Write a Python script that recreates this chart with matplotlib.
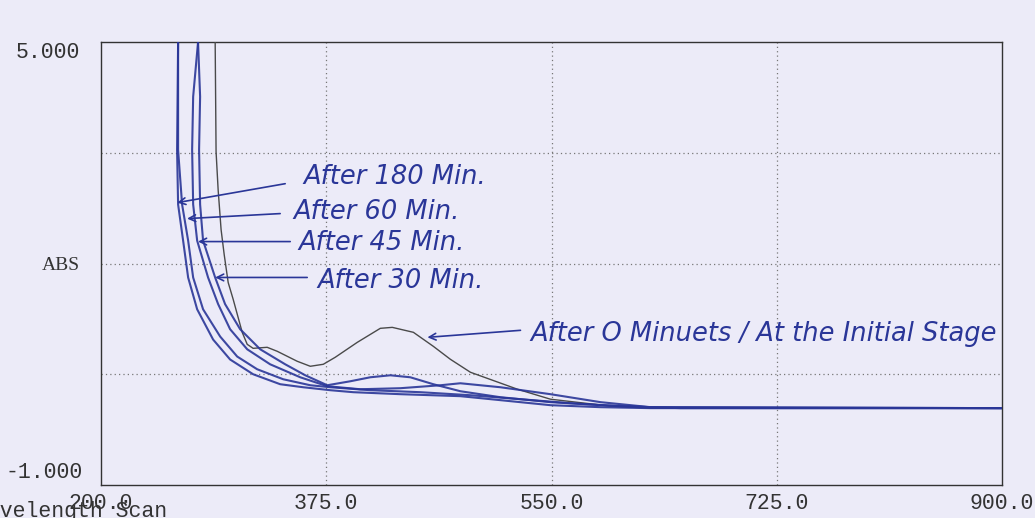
import matplotlib
matplotlib.use("Agg")
import matplotlib.pyplot as plt

# ---- data (wavelength nm, absorbance) ----
x_ticks = [200.0, 375.0, 550.0, 725.0, 900.0]
y_min, y_max = -1.0, 5.0
y_grid = [0.5, 2.0, 3.5]

wl_0 = [288.7, 289.4, 291.0, 293.3, 295.7, 298.8, 302.7, 309.7, 313.6, 318.2, 329.1, 336.9,
        352.4, 362.6, 372.7, 382.0, 399.1, 417.0, 426.3, 442.7, 458.2, 471.4, 487.0, 523.6,
        549.2, 595.9, 627.0, 900.0]
abs_0 = [5.0, 3.514, 3.0, 2.459, 2.122, 1.743, 1.514, 1.068, 0.905, 0.851, 0.865, 0.811,
         0.676, 0.608, 0.635, 0.730, 0.932, 1.122, 1.135, 1.068, 0.878, 0.703, 0.527, 0.297,
         0.162, 0.068, 0.041, 0.041]

wl_30 = [275.4, 277.0, 276.2, 277.0, 279.3, 288.7, 296.4, 308.1, 323.7, 343.1, 358.7, 375.8,
         393.7, 409.2, 424.8, 440.3, 458.2, 479.2, 510.3, 549.2, 588.1, 627.0, 900.0]
abs_30 = [5.0, 4.26, 3.54, 2.80, 2.31, 1.81, 1.45, 1.11, 0.838, 0.635, 0.486, 0.351,
          0.405, 0.459, 0.486, 0.459, 0.365, 0.270, 0.189, 0.122, 0.081, 0.054, 0.041]

wl_45 = [275.4, 271.6, 270.8, 271.6, 274.7, 283.2, 291.0, 300.3, 313.6, 331.4, 354.8, 375.8,
         401.4, 432.6, 463.7, 479.2, 510.3, 549.2, 588.1, 627.0, 900.0]
abs_45 = [5.0, 4.26, 3.54, 2.80, 2.31, 1.81, 1.45, 1.11, 0.838, 0.635, 0.459, 0.338,
          0.297, 0.311, 0.351, 0.378, 0.324, 0.230, 0.122, 0.054, 0.041]

wl_60 = [259.9, 259.9, 263.0, 267.7, 271.6, 279.3, 292.6, 305.8, 321.3, 341.6, 362.6, 378.1,
         409.2, 448.1, 487.0, 525.9, 564.8, 603.7, 650.3, 900.0]
abs_60 = [5.0, 3.54, 2.80, 2.31, 1.81, 1.38, 1.01, 0.74, 0.568, 0.432, 0.351, 0.324,
          0.284, 0.257, 0.216, 0.162, 0.108, 0.068, 0.041, 0.041]

wl_180 = [259.9, 259.1, 259.9, 263.8, 267.7, 274.7, 287.1, 300.3, 318.2, 339.2, 357.1, 378.1,
          396.0, 432.6, 479.2, 510.3, 549.2, 588.1, 627.0, 900.0]
abs_180 = [5.0, 3.54, 2.80, 2.31, 1.81, 1.38, 0.97, 0.70, 0.50, 0.365, 0.324, 0.284,
           0.257, 0.230, 0.203, 0.149, 0.081, 0.054, 0.041, 0.041]

y_tick_labels = ["5.000", "ABS", "-1.000"]
x_tick_labels = ["200.0", "375.0", "550.0", "725.0", "900.0"]
notes = ["After 180 Min.", "After 60 Min.", "After 45 Min.", "After 30 Min.",
         "After O Minuets / At the Initial Stage"]

# ---- style ----
W, H = 1035, 518
bg = "#ecebf8"
ink = "#2a3698"
mono = "Liberation Mono"

fig = plt.figure(figsize=(W / 100, H / 100), dpi=100, facecolor=bg)
ax = fig.add_axes([101 / W, 1 - 485 / H, 901 / W, 443 / H])
ax.set_facecolor(bg)
ax.set_xlim(x_ticks[0], x_ticks[-1])
ax.set_ylim(y_min, y_max)
ax.set_xticks([])
ax.set_yticks([])
for s in ax.spines.values():
    s.set_color("#333333")
    s.set_linewidth(1.0)

for xv in x_ticks[1:-1]:
    ax.axvline(xv, color="#777777", lw=0.9, ls=(0, (1, 2.5)), zorder=1)
for yv in y_grid:
    ax.axhline(yv, color="#777777", lw=0.9, ls=(0, (1, 2.5)), zorder=1)

ax.plot(wl_0, abs_0, color="#4a4a4a", lw=1.0, zorder=3)
for wl, ab in [(wl_30, abs_30), (wl_45, abs_45), (wl_60, abs_60), (wl_180, abs_180)]:
    ax.plot(wl, ab, color=ink, lw=1.5, zorder=4, alpha=0.9)

# tick labels (printed style)
tcol = "#333333"
fig.text(80 / W, 1 - 53 / H, y_tick_labels[0], ha="right", va="center",
         family=mono, fontsize=15.5, color=tcol)
fig.text(80 / W, 1 - 266 / H, y_tick_labels[1], ha="right", va="center",
         family="Liberation Serif", fontsize=14, color=tcol)
fig.text(83 / W, 1 - 473 / H, y_tick_labels[2], ha="right", va="center",
         family=mono, fontsize=15.5, color=tcol)
for xv, lab in zip(x_ticks, x_tick_labels):
    ax.text(xv, -0.042, lab, transform=ax.get_xaxis_transform(), ha="center",
            va="center", family=mono, fontsize=15.5, color=tcol, clip_on=False)
fig.text(-26 / W, 1 - 511 / H, "Wavelength Scan", ha="left", va="center",
         family=mono, fontsize=15.5, color=tcol)

# handwritten annotations
hw = dict(color=ink, fontsize=18.5, family="DejaVu Sans", style="oblique",
          va="center", ha="left", clip_on=False)
arrow = dict(arrowstyle="->", color=ink, lw=1.2, shrinkA=0, shrinkB=0,
             mutation_scale=12)
ann = [
    (notes[0], (357.1, 3.176), (343.1, 3.081), (259.1, 2.824)),
    (notes[1], (349.3, 2.703), (339.2, 2.676), (266.9, 2.608)),
    (notes[2], (353.2, 2.284), (347.0, 2.297), (275.4, 2.297)),
    (notes[3], (368.0, 1.757), (360.2, 1.811), (288.7, 1.811)),
    (notes[4], (533.7, 1.041), (525.9, 1.095), (453.6, 1.0)),
]
for txt, tpos, a0, a1 in ann:
    ax.text(tpos[0], tpos[1], txt, **hw)
    ax.annotate("", xy=a1, xytext=a0, arrowprops=arrow)

fig.savefig("out.png", dpi=100, facecolor=bg)
